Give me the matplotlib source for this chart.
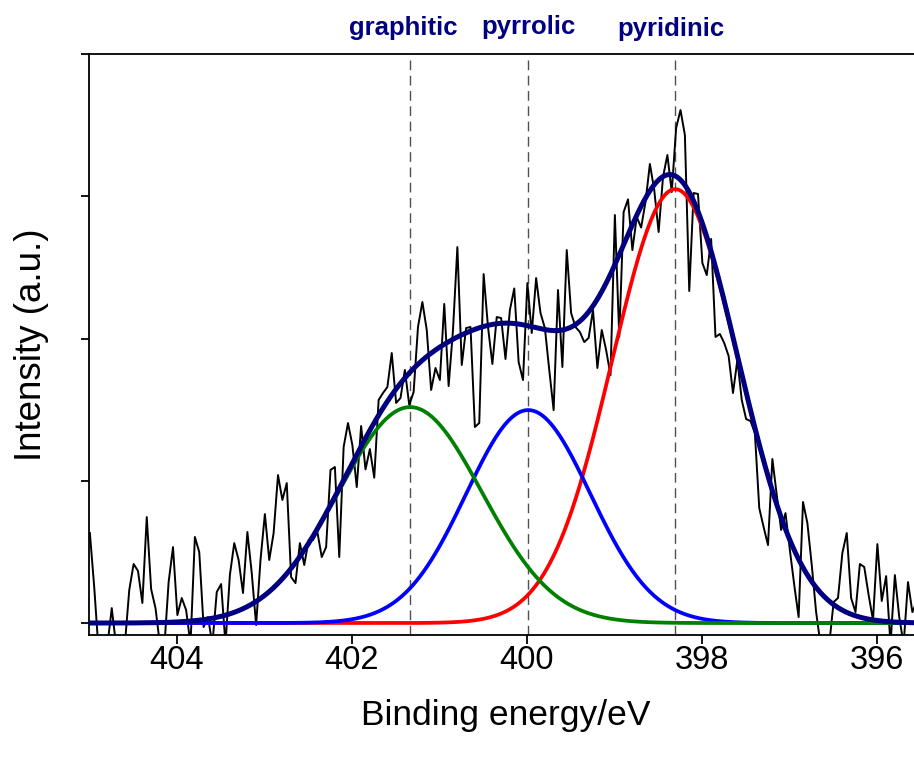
import numpy as np
import matplotlib
matplotlib.use("Agg")
import matplotlib.pyplot as plt

plt.rcParams['font.family'] = ['Liberation Sans', 'DejaVu Sans']

# N 1s spectrum: binding energy start, step and measured counts
energy_start = 404.99
energy_step = 0.05
counts = [
    633, 250, -200, -220, -160, 105, -160, -210, -150, 232,
    415, 366, 141, 745, 239, 105, -150, -180, 288, 534,
    56, 176, 91, -150, 605, 499, -28, 42, -150, 218,
    274, -150, 337, 562, 443, 211, 640, 351, -14, 443,
    766, 443, 633, 1040, 865, 984, 323, 281, 562, 408,
    583, 583, 640, 464, 534, 1076, 1097, 464, 1237, 1406,
    1251, 956, 1385, 1080, 1223, 1022, 1568, 1617, 1659, 1898,
    1547, 1582, 1779, 1533, 1624, 2081, 2257, 2060, 1638, 1793,
    1708, 2243, 1666, 2060, 2643, 1814, 2074, 2081, 1378, 1406,
    2453, 2081, 1821, 2151, 2144, 1856, 2200, 2352, 1835, 1708,
    2390, 2039, 2425, 2179, 2074, 1779, 1497, 2341, 1800, 2622,
    2179, 2081, 2046, 1975, 2004, 2200, 1793, 2060, 1919, 1743,
    2868, 2011, 2889, 2978, 2622, 2854, 2780, 2960, 3227, 3044,
    2749, 3135, 3290, 3030, 3480, 3606, 3431, 2334, 3023, 3016,
    2531, 2446, 2700, 2011, 2032, 1968, 1877, 1617, 1849, 1568,
    1434, 1420, 1336, 808, 675, 548, 1153, 900, 654, 773,
    513, 267, 42, 851, 703, 408, 77, -150, -200, -150,
    148, 176, 492, 633, 176, 77, 415, 394, 197, 21,
    555, 155, 330, -150, 337, 42, -150, 288, 77, 150,
]

# Fitted components
species = ["graphitic", "pyrrolic", "pyridinic"]
peak_centers = [401.33, 399.98, 398.30]
peak_heights = [1518, 1497, 3050]
peak_sigmas = [0.82, 0.71, 0.72]
peak_colors = ["#008000", "#0000FF", "#FF0000"]
label_x = [401.41, 399.98, 398.35]
label_y = [33, 32, 34]

energy = energy_start - energy_step * np.arange(len(counts))
fine = np.linspace(405.2, 395.3, 1200)

fig = plt.figure(figsize=(9.14, 7.63), dpi=100)
ax = fig.add_axes([89 / 914, (763 - 635) / 763, (914 - 89) / 914, (635 - 54) / 763])

for c in peak_centers:
    ax.axvline(c, color="#505050", lw=1.0, ls=(0, (7, 4)), zorder=1)

ax.plot(energy, counts, color="black", lw=1.4, zorder=2)

components = []
order = [2, 1, 0]  # red under blue under green
for k in order:
    y = peak_heights[k] * np.exp(-(fine - peak_centers[k]) ** 2 / (2 * peak_sigmas[k] ** 2))
    ax.plot(fine, y, color=peak_colors[k], lw=2.7, zorder=3 + order.index(k))
    components.append(y)
envelope = np.sum(components, axis=0)
ax.plot(fine, envelope, color="#000080", lw=3.6, zorder=7)

ax.set_xlim(405.0, 405.0 - 825 / 87.5)
ax.set_ylim(-84, 4000)
ax.set_xticks([404, 402, 400, 398, 396])
ax.set_yticks([0, 1000, 2000, 3000, 4000])
ax.set_yticklabels([])
ax.tick_params(axis="x", direction="out", length=6.5, width=1.3, labelsize=23.5, pad=0.5)
ax.tick_params(axis="y", direction="out", length=6, width=1.3)
for s in ["left", "top", "bottom"]:
    ax.spines[s].set_linewidth(1.3)
ax.spines["right"].set_visible(False)

ax.set_ylabel("Intensity (a.u.)", fontsize=26.5)
ax.yaxis.set_label_coords((49 - 89) / 825, (635 - 345) / 581)
fig.text((89 + 417) / 914, (763 - 716) / 763, "Binding energy/eV",
         ha="center", va="center", fontsize=25.5)

for name, lx, ly in zip(species, label_x, label_y):
    xf = ax.transData.transform((lx, 0))[0] / fig.bbox.width
    fig.text(xf, (763 - ly - 2) / 763, name, ha="center", va="baseline",
             fontsize=18.5, fontweight="bold", color="#000080")

fig.savefig("out.png", dpi=100)
